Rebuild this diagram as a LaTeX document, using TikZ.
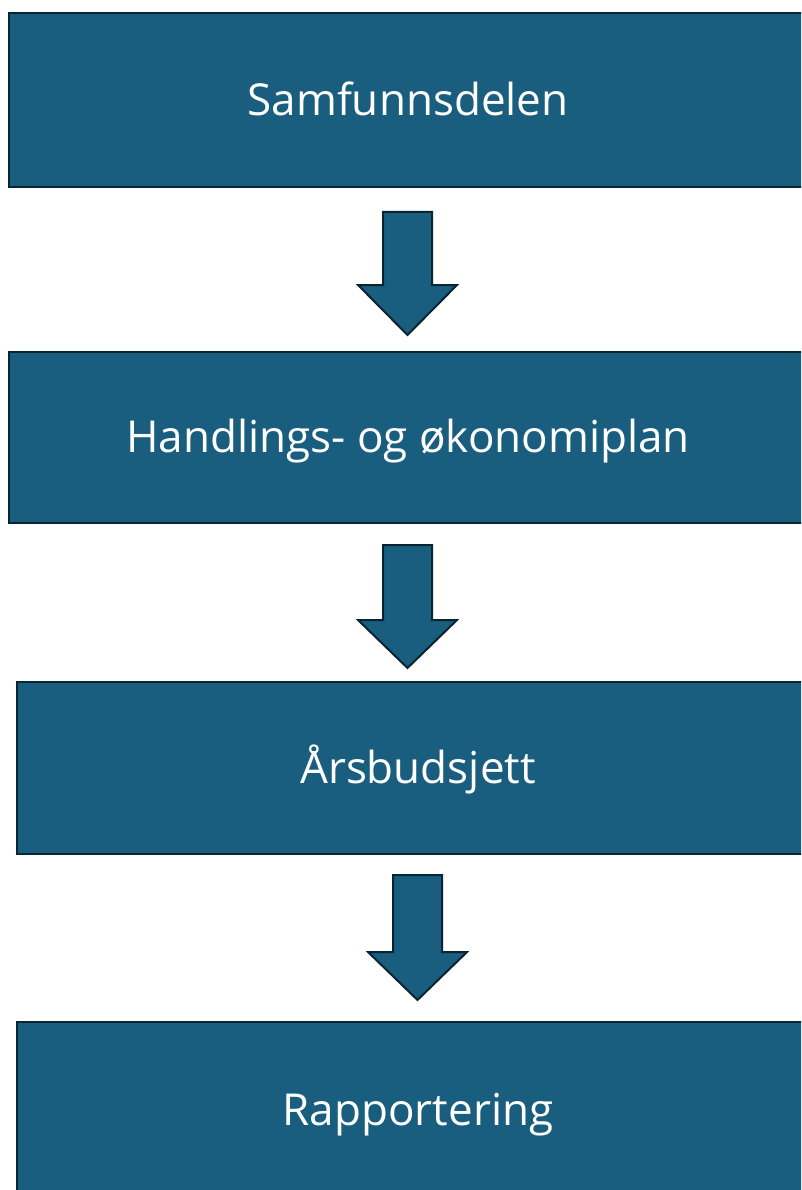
\documentclass[tikz,border=0pt]{standalone}
\usepackage{fontspec}
\setmainfont{Open Sans}
\definecolor{boxfill}{RGB}{25,94,126}
\definecolor{boxline}{RGB}{10,36,50}
\tikzset{
  stage/.style={fill=boxfill, draw=boxline, line width=2.6pt},
  label/.style={text=white, font=\fontsize{44}{52}\selectfont, anchor=base, inner sep=0pt},
  blockarr/.style={fill=boxfill, draw=boxline, line width=2pt, line join=miter}
}
\begin{document}
\begin{tikzpicture}[x=1pt,y=-1pt]
\clip (0,0) rectangle (801,1190);
\fill[white] (0,0) rectangle (801,1190);
% boxes
\draw[stage] (9,13) rectangle (812,187);
\coordinate (b1) at (408,100);
\draw[stage] (9,352) rectangle (812,523);
\coordinate (b2) at (408,437);
\draw[stage] (17,682) rectangle (822,854);
\coordinate (b3) at (418,768);
\draw[stage] (17,1022) rectangle (822,1210);
\coordinate (b4) at (418,1110);
% labels
\node[label] (t1) at ([yshift=-15.5pt]b1) {Samfunnsdelen};
\node[label] (t2) at ([yshift=-15.5pt]b2) {Handlings- og økonomiplan};
\node[label] (t3) at ([yshift=-15.5pt]b3) {Årsbudsjett};
\node[label] (t4) at ([yshift=-15.5pt]b4) {Rapportering};
% block arrows: centre x, top, head base, tip
\foreach \cx/\top/\hb/\tip in {407.5/212/285/335, 407.5/545/620/668, 417.5/875/952/1000}{
  \draw[blockarr] (\cx-24.5,\top) -- (\cx+24.5,\top) -- (\cx+24.5,\hb) -- (\cx+49.5,\hb)
     -- (\cx,\tip) -- (\cx-49.5,\hb) -- (\cx-24.5,\hb) -- cycle;
}
\end{tikzpicture}
\end{document}
